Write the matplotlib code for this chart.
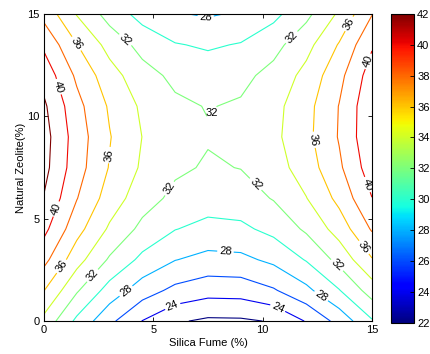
import numpy as np
import matplotlib
matplotlib.use("Agg")
import matplotlib.pyplot as plt
from matplotlib.colors import Normalize
from matplotlib.cm import ScalarMappable

plt.rcParams['font.family'] = ['Liberation Sans', 'DejaVu Sans']

# values on a 1.5 step grid
silica = [0, 1.5, 3, 4.5, 6, 7.5, 9, 10.5, 12, 13.5, 15]
zeolite = [0, 1.5, 3, 4.5, 6, 7.5, 9, 10.5, 12, 13.5, 15]
# one row per zeolite value, one column per silica value
strength = [
    [33.40, 29.56, 26.47, 23.95, 22.25, 21.65, 21.70, 22.15, 24.13, 26.68, 29.80],
    [36.05, 32.24, 29.19, 26.95, 25.49, 24.79, 24.87, 25.80, 27.50, 29.90, 32.93],
    [38.60, 34.78, 31.74, 29.50, 28.06, 27.39, 27.52, 28.44, 30.14, 32.61, 35.87],
    [40.54, 36.72, 33.70, 31.47, 30.06, 29.43, 29.59, 30.57, 32.33, 34.87, 38.21],
    [41.89, 38.08, 35.08, 32.88, 31.49, 30.90, 31.10, 32.12, 33.94, 36.55, 39.96],
    [42.63, 38.86, 35.88, 33.71, 32.35, 31.80, 32.05, 33.11, 34.98, 37.64, 41.11],
    [42.78, 39.04, 36.11, 33.97, 32.65, 32.14, 32.42, 33.52, 35.44, 38.15, 41.66],
    [42.33, 38.64, 35.75, 33.66, 32.38, 31.91, 32.23, 33.37, 35.32, 38.07, 41.62],
    [41.28, 37.64, 34.82, 32.77, 31.54, 31.11, 31.47, 32.64, 34.62, 37.41, 40.99],
    [39.63, 36.07, 33.30, 31.31, 30.13, 29.74, 30.14, 31.34, 33.35, 36.16, 39.76],
    [37.38, 33.90, 31.21, 29.28, 28.15, 27.81, 28.24, 29.47, 31.50, 34.33, 37.93],
]
plain_levels = [22, 26, 30, 34, 38, 42]
label_levels = [24, 28, 32, 36, 40]
axis_ticks = [0, 5, 10, 15]
cbar_ticks = [22, 24, 26, 28, 30, 32, 34, 36, 38, 40, 42]

# where the inline labels sit (data coords)
LABEL_POS = [(7.4, 14.9), (3.6, 13.6), (1.4, 13.5), (0.5, 11.4), (3.1, 8.1),
             (7.6, 10.2), (11.3, 13.9), (14.0, 14.5), (14.8, 12.7), (12.3, 8.85),
             (5.85, 6.4), (9.6, 6.6), (0.75, 5.4), (14.6, 6.6), (0.9, 2.6),
             (2.3, 2.15), (14.5, 3.5), (13.3, 2.6), (3.8, 1.4), (8.3, 3.4),
             (12.6, 1.1), (5.9, 0.7), (10.6, 0.45)]
FS = 8

fig = plt.figure(figsize=(4.31, 3.54), dpi=100)
ax = fig.add_axes([0.102, 0.093, 0.761, 0.867])
cax = fig.add_axes([0.907, 0.088, 0.0545, 0.873])

norm = Normalize(vmin=22, vmax=42)
z = np.array(strength)
ax.contour(silica, zeolite, z, levels=plain_levels,
           cmap='jet', norm=norm, linewidths=0.8)
cs = ax.contour(silica, zeolite, z, levels=label_levels,
                cmap='jet', norm=norm, linewidths=0.8)
texts = ax.clabel(cs, manual=LABEL_POS, inline=True,
                  fmt='%d', fontsize=FS, colors='k', inline_spacing=2)
# the centre label sits on a kink, keep it flat like the original
texts[5].set_rotation(0)

ax.set_xlim(0, 15)
ax.set_ylim(0, 15)
ax.set_xticks(axis_ticks)
ax.set_yticks(axis_ticks)
ax.tick_params(direction='in', top=True, right=True, length=3, width=0.6,
               labelsize=FS, pad=3)
for s in ax.spines.values():
    s.set_linewidth(0.8)
ax.set_xlabel('Silica Fume (%)', fontsize=FS, labelpad=2)
ax.set_ylabel('Natural Zeolite(%)', fontsize=FS, labelpad=1)

cb = fig.colorbar(ScalarMappable(norm=norm, cmap='jet'), cax=cax, ticks=cbar_ticks)
cb.outline.set_linewidth(0.8)
cax.tick_params(direction='in', length=3, width=0.6, labelsize=FS, pad=2)

fig.savefig('out.png', dpi=100)
